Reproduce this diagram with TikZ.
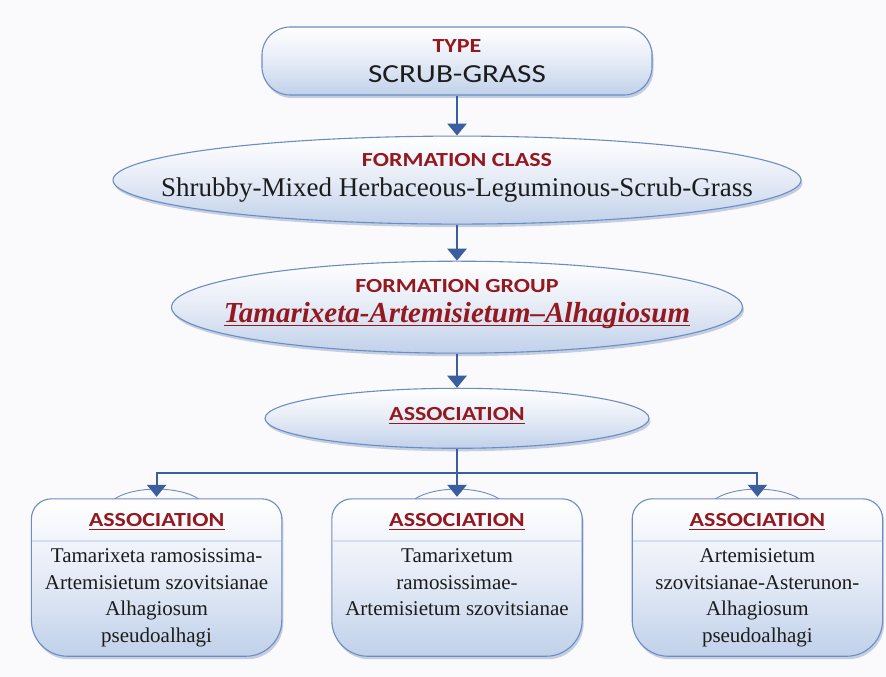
\documentclass[tikz,border=0pt]{standalone}
\usepackage{fontspec}
\setmainfont{Liberation Serif}
\newfontfamily\lblfont[FakeStretch=1.2]{Carlito}
\usetikzlibrary{positioning,arrows.meta,shapes.geometric,shadows}
\definecolor{pagebg}{RGB}{250,250,252}
\definecolor{flowblue}{RGB}{58,94,158}
\definecolor{edgeblue}{RGB}{108,140,194}
\definecolor{shadeblue}{RGB}{192,209,234}
\definecolor{shademid}{RGB}{229,235,246}
\definecolor{shadowblue}{RGB}{150,170,205}
\definecolor{lblred}{RGB}{148,24,30}
\definecolor{bodyink}{RGB}{28,28,28}

\begin{document}
\begin{tikzpicture}[x=1pt,y=1pt,>={Triangle[width=19pt,length=12pt]},
  shell/.style={draw=edgeblue,line width=1.1pt,top color=white,bottom color=shadeblue,middle color=shademid,
    drop shadow={shadow xshift=1.5pt,shadow yshift=-3pt,fill=shadowblue,opacity=.55}},
  ell/.style={shell,ellipse,inner sep=0pt},
  redlbl/.style={font=\lblfont\bfseries\fontsize{20}{24}\selectfont,text=lblred,inner sep=0pt,anchor=base},
  body/.style={font=\fontsize{21}{26.5}\selectfont,text=bodyink,align=center,inner sep=0pt},
  flow/.style={->,draw=flowblue,line width=2.8pt},
  branch/.style={->,draw=flowblue,line width=2pt},
  ulline/.style={draw=lblred,line width=1.2pt}]
  \path[fill=pagebg] (0,0) rectangle (886,677);
  % levels
  \node[shell,rounded corners=28pt,minimum width=390pt,minimum height=68pt] (type) at (457,616) {};
  \node[redlbl] (typeL) at ([yshift=8pt]type.center) {TYPE};
  \node[font=\lblfont\fontsize{26}{30}\selectfont,text=bodyink,inner sep=0pt,anchor=base] (typeN)
        at ([yshift=-22pt]type.center) {SCRUB-GRASS};
  \node[ell,minimum width=688pt,minimum height=88pt,below=40pt of type] (fclass) {};
  \node[redlbl] (fclassL) at ([yshift=14pt]fclass.center) {FORMATION CLASS};
  \node[body,anchor=base,font=\fontsize{27}{32}\selectfont] (fclassN) at ([yshift=-16pt]fclass.center)
        {Shrubby-Mixed Herbaceous-Leguminous-Scrub-Grass};
  \node[ell,minimum width=571pt,minimum height=92pt,below=36pt of fclass] (fgroup) {};
  \node[redlbl] (fgroupL) at ([yshift=15pt]fgroup.center) {FORMATION GROUP};
  \node[anchor=base,inner sep=0pt,text=lblred,font=\bfseries\itshape\fontsize{29}{32}\selectfont] (fgroupN)
        at ([yshift=-15pt]fgroup.center) {Tamarixeta-Artemisietum--Alhagiosum};
  \draw[ulline] ([yshift=-3pt]fgroupN.base west) -- ([yshift=-3pt]fgroupN.base east);
  \node[ell,minimum width=384pt,minimum height=60pt,below=34pt of fgroup] (assoc) {};
  \node[redlbl] (assocL) at ([yshift=-2pt]assoc.center) {ASSOCIATION};
  \draw[ulline] ([yshift=-3pt]assocL.base west) -- ([yshift=-3pt]assocL.base east);
  % associations
  \node[minimum width=250pt,minimum height=157pt,inner sep=0pt,below=50pt of assoc] (as2) {};
  \node[minimum width=250pt,minimum height=157pt,inner sep=0pt,left=50pt of as2] (as1) {};
  \node[minimum width=250pt,minimum height=157pt,inner sep=0pt,right=50pt of as2] (as3) {};
  \foreach \n in {as1,as2,as3}{
    \path[shell] ([xshift=20pt]\n.north west) -- ([xshift=-20pt]\n.north east)
      arc[start angle=90,end angle=0,radius=20pt] -- ([yshift=36pt]\n.south east)
      arc[start angle=0,end angle=-90,radius=36pt] -- ([xshift=36pt]\n.south west)
      arc[start angle=270,end angle=180,radius=36pt] -- ([yshift=-20pt]\n.north west)
      arc[start angle=180,end angle=90,radius=20pt] -- cycle;
    \draw[shadeblue,line width=1.5pt,opacity=.6] ([xshift=1pt,yshift=-42pt]\n.north west)
      -- ([xshift=-1pt,yshift=-42pt]\n.north east);
    \draw[edgeblue,line width=.9pt] ([xshift=-42pt]\n.north) .. controls ([xshift=-22pt,yshift=13pt]\n.north)
      and ([xshift=22pt,yshift=13pt]\n.north) .. ([xshift=42pt]\n.north);
    \node[redlbl] (\n-lbl) at ([yshift=-28pt]\n.north) {ASSOCIATION};
    \draw[ulline] ([yshift=-2.5pt]\n-lbl.base west) -- ([yshift=-2.5pt]\n-lbl.base east);
  }
  \node[body,anchor=north] (as1T) at ([yshift=-50pt]as1.north)
        {Tamarixeta ramosissima-\\Artemisietum szovitsianae\\Alhagiosum\\pseudoalhagi};
  \node[body,anchor=north] (as2T) at ([yshift=-50pt]as2.north)
        {Tamarixetum\\ramosissimae-\\Artemisietum szovitsianae};
  \node[body,anchor=north] (as3T) at ([yshift=-50pt]as3.north)
        {Artemisietum\\szovitsianae-Asterunon-\\Alhagiosum\\pseudoalhagi};
  % connectors
  \draw[flow] (type) -- (fclass);
  \draw[flow] (fclass) -- (fgroup);
  \draw[flow] (fgroup) -- (assoc);
  \draw[flow] (assoc) -- ([yshift=2pt]as2.north);
  \coordinate[below=24pt of assoc] (split);
  \draw[branch] (split) -| ([yshift=2pt]as1.north);
  \draw[branch] (split) -| ([yshift=2pt]as3.north);
\end{tikzpicture}
\end{document}
